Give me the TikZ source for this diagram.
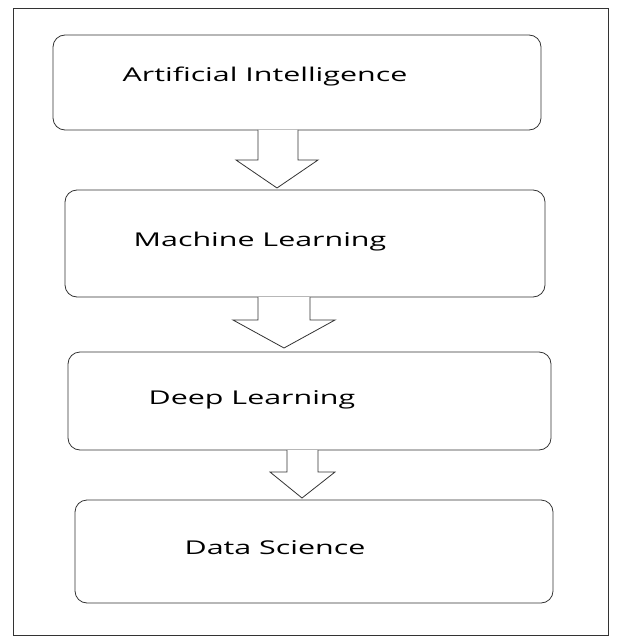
\documentclass[tikz,border=0pt]{standalone}
\usepackage{fontspec}
\setmainfont{Open Sans}
\begin{document}
\begin{tikzpicture}[x=1pt, y=-1pt]
	\tikzset{Stage/.style={draw=black!80, line width=0.8pt, rounded corners=12pt}}
	\tikzset{Label/.style={font=\fontsize{19}{22}\selectfont, xscale=1.6, transform shape}}
	\tikzset{Flow/.style={draw=black!80, line width=0.8pt, fill=white}}
	
	\useasboundingbox (0,0) rectangle (619,644);
	\draw[black!80] (13,8) rectangle (608,635);
	
	% stages
	\draw[Stage] (53,35) rectangle (541,130);
	\draw[Stage] (65,190) rectangle (545,297);
	\draw[Stage] (68,352) rectangle (551,450);
	\draw[Stage] (75,500) rectangle (553,603);
	\node[name=ai, Label] at (265,77) {Artificial Intelligence};
	\node[name=ml, Label] at (260,242) {Machine Learning};
	\node[name=dl, Label] at (252,400) {Deep Learning};
	\node[name=ds, Label] at (275,548) {Data Science};
	
	% block arrows
	\draw[Flow] (258,130) -- (258,160) -- (236,160) -- (277,188) -- (318,160) -- (298,160) -- (298,130);
	\draw[Flow] (258,297) -- (258,320) -- (233,320) -- (284,348) -- (335,320) -- (310,320) -- (310,297);
	\draw[Flow] (287,450) -- (287,472) -- (270,472) -- (302,498) -- (335,472) -- (318,472) -- (318,450);
\end{tikzpicture}
\end{document}
